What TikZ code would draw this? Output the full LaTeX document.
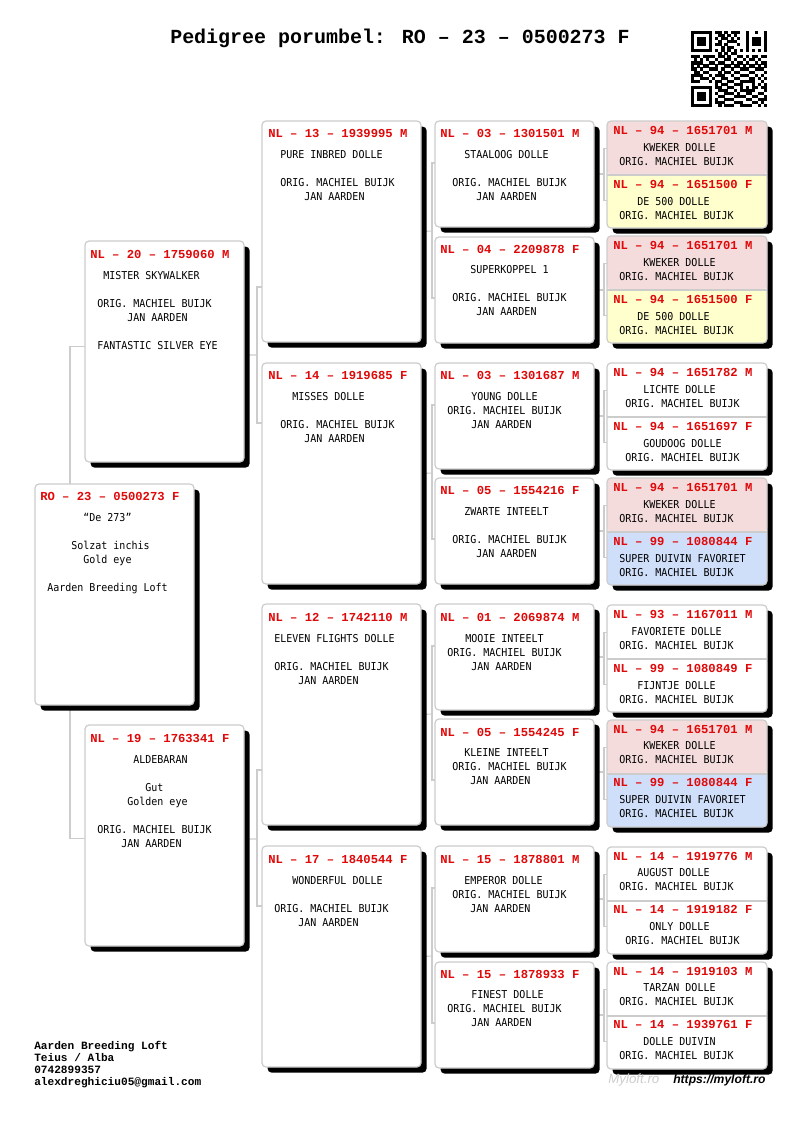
\documentclass[tikz,border=0pt]{standalone}
\usepackage{fontspec}
\usepackage{tikz}
\usetikzlibrary{shadows, backgrounds}
\setmainfont{Liberation Sans}
\newfontfamily\tagfont{Liberation Mono}
\newfontfamily\bodyfont[FakeStretch=0.92]{DejaVu Sans Mono}

\definecolor{linegray}{HTML}{CCCCCC}
\definecolor{tagred}{HTML}{E00808}
\definecolor{cellpink}{HTML}{F5DCDC}
\definecolor{cellyellow}{HTML}{FFFFCE}
\definecolor{cellblue}{HTML}{CFDFFA}

\begin{document}
\begin{tikzpicture}[
  x=0.75pt, y=-0.75pt,
  card/.style={
    draw=linegray, line width=0.9pt, fill=white, rounded corners=3pt,
    anchor=north west, inner sep=0pt, outer sep=0pt, minimum width=119.25pt,
    general shadow={fill=black, shadow xshift=4.2pt, shadow yshift=-4.2pt}
  },
  tallcard/.style={card, minimum height=165.75pt},
  shortcard/.style={card, minimum height=79.5pt},
  paircard/.style 2 args={
    card, minimum width=120pt, minimum height=80.25pt,
    path picture={
      \fill[#1] (path picture bounding box.north west) rectangle (path picture bounding box.east);
      \fill[#2] (path picture bounding box.west) rectangle (path picture bounding box.south east);
      \draw[linegray, line width=1.5pt] (path picture bounding box.west) -- (path picture bounding box.east);
    }
  },
  tag/.style={anchor=west, inner sep=0pt, text=tagred, font={\tagfont\bfseries\fontsize{9.15}{10.5}\selectfont}},
  body/.style={anchor=north west, inner sep=0pt, yshift=0.4pt, align=left, font={\bodyfont\fontsize{8.15}{10.5}\selectfont}},
  foot/.style={anchor=base west, inner sep=0pt, font={\tagfont\bfseries\fontsize{8.35}{9}\selectfont}},
  link/.style={draw=linegray, line width=0.8pt},
]
\useasboundingbox (0,0) rectangle (800,1131);

%% ── Title ─────────────────────────────────────────────────────────────────
\node[anchor=west, inner sep=0pt, font={\tagfont\bfseries\fontsize{14.98}{17}\selectfont}] (title) at (170,38)
  {Pedigree porumbel: RO – 23 – 0500273 F};

%% ── QR code ───────────────────────────────────────────────────────────────
\begin{scope}[shift={(691,31)}, x=2.28pt, y=-2.28pt]
  \foreach \r/\cols in {
    0/{0,...,6,8,9,11,13,14,15,18,...,24},
    1/{0,6,9,10,12,14,18,24},
    2/{0,2,3,4,6,8,10,11,13,15,18,20,21,22,24},
    3/{0,2,3,4,6,9,12,13,14,18,20,21,22,24},
    4/{0,2,3,4,6,8,9,11,15,18,20,21,22,24},
    5/{0,6,10,12,13,18,24},
    6/{0,...,6,8,10,12,14,16,18,...,24},
    7/{9,11,13,14},
    8/{0,1,2,4,5,6,7,9,10,12,15,16,18,20,21,23,24},
    9/{1,3,5,8,11,12,14,17,19,20,22},
    10/{0,1,2,3,6,7,9,10,13,15,16,18,21,23,24},
    11/{0,2,4,5,8,11,12,14,15,17,19,20,22,24},
    12/{0,1,3,6,7,8,10,13,16,17,18,21,22,23},
    13/{1,2,4,5,9,11,12,14,15,19,20,24},
    14/{0,1,2,3,6,8,9,10,13,16,17,18,21,23},
    15/{0,3,4,5,7,10,11,14,15,19,20,22,24},
    16/{0,1,2,6,8,9,12,13,16,17,18,19,20,23},
    17/{8,10,11,14,15,16,20,22,24},
    18/{0,...,6,8,9,12,13,16,18,20,21,23,24},
    19/{0,6,9,10,11,14,16,17,18,19,20,24},
    20/{0,2,3,4,6,8,11,12,13,15,18,19,22,23},
    21/{0,2,3,4,6,9,10,14,15,16,17,20,21,24},
    22/{0,2,3,4,6,8,11,12,13,18,19,22,23,24},
    23/{0,6,8,9,10,14,15,16,20,21,23},
    24/{0,...,6,9,11,12,13,16,17,18,19,22,24}%
  }{
    \foreach \c in \cols {\fill (\c,\r) rectangle ++(1.03,1.03);}
  }
\end{scope}

%% ── Subject ───────────────────────────────────────────────────────────────
\node[tallcard] (n23) at (35,484) {};
\node[tag] (n23t) at (40,496) {RO – 23 – 0500273 F};
\node[body] (n23b) at (47,514) {~~~~~~“De 273”\\~\\~~~~Solzat inchis\\~~~~~~Gold eye\\~\\Aarden Breeding Loft};

%% ── Parents ───────────────────────────────────────────────────────────────
\node[tallcard] (n20) at (85,241) {};
\node[tag] (n20t) at (90,254) {NL – 20 – 1759060 M};
\node[body] (n20b) at (97,272) {~MISTER SKYWALKER\\~\\ORIG. MACHIEL BUIJK\\~~~~~JAN AARDEN\\~\\FANTASTIC SILVER EYE};
\node[tallcard] (n19) at (85,725) {};
\node[tag] (n19t) at (90,738) {NL – 19 – 1763341 F};
\node[body] (n19b) at (97,756) {~~~~~~ALDEBARAN\\~\\~~~~~~~~Gut\\~~~~~Golden eye\\~\\ORIG. MACHIEL BUIJK\\~~~~JAN AARDEN};

%% ── Grandparents ──────────────────────────────────────────────────────────
\node[tallcard] (n13) at (262,121) {};
\node[tag] (n13t) at (268,133) {NL – 13 – 1939995 M};
\node[body] (n13b) at (280,151) {PURE INBRED DOLLE\\~\\ORIG. MACHIEL BUIJK\\~~~~JAN AARDEN};
\node[tallcard] (n14) at (262,363) {};
\node[tag] (n14t) at (268,375) {NL – 14 – 1919685 F};
\node[body] (n14b) at (280,393) {~~MISSES DOLLE\\~\\ORIG. MACHIEL BUIJK\\~~~~JAN AARDEN};
\node[tallcard] (n12) at (262,604) {};
\node[tag] (n12t) at (268,617) {NL – 12 – 1742110 M};
\node[body] (n12b) at (274,635) {ELEVEN FLIGHTS DOLLE\\~\\ORIG. MACHIEL BUIJK\\~~~~JAN AARDEN};
\node[tallcard] (n17) at (262,846) {};
\node[tag] (n17t) at (268,859) {NL – 17 – 1840544 F};
\node[body] (n17b) at (274,877) {~~~WONDERFUL DOLLE\\~\\ORIG. MACHIEL BUIJK\\~~~~JAN AARDEN};

%% ── Great-grandparents ────────────────────────────────────────────────────
\node[shortcard] (n03a) at (435,121) {};
\node[tag] (n03at) at (440,133) {NL – 03 – 1301501 M};
\node[body] (n03ab) at (452,151) {~~STAALOOG DOLLE\\~\\ORIG. MACHIEL BUIJK\\~~~~JAN AARDEN};
\node[shortcard] (n04) at (435,237) {};
\node[tag] (n04t) at (440,249) {NL – 04 – 2209878 F};
\node[body] (n04b) at (452,266) {~~~SUPERKOPPEL 1\\~\\ORIG. MACHIEL BUIJK\\~~~~JAN AARDEN};
\node[shortcard] (n03b) at (435,363) {};
\node[tag] (n03bt) at (440,375) {NL – 03 – 1301687 M};
\node[body] (n03bb) at (447,393) {~~~~YOUNG DOLLE\\ORIG. MACHIEL BUIJK\\~~~~JAN AARDEN};
\node[shortcard] (n05a) at (435,478) {};
\node[tag] (n05at) at (440,490) {NL – 05 – 1554216 F};
\node[body] (n05ab) at (452,508) {~~ZWARTE INTEELT\\~\\ORIG. MACHIEL BUIJK\\~~~~JAN AARDEN};
\node[shortcard] (n01) at (435,604) {};
\node[tag] (n01t) at (440,617) {NL – 01 – 2069874 M};
\node[body] (n01b) at (447,635) {~~~MOOIE INTEELT\\ORIG. MACHIEL BUIJK\\~~~~JAN AARDEN};
\node[shortcard] (n05b) at (435,719) {};
\node[tag] (n05bt) at (440,732) {NL – 05 – 1554245 F};
\node[body] (n05bb) at (452,749) {~~KLEINE INTEELT\\ORIG. MACHIEL BUIJK\\~~~JAN AARDEN};
\node[shortcard] (n15a) at (435,846) {};
\node[tag] (n15at) at (440,859) {NL – 15 – 1878801 M};
\node[body] (n15ab) at (452,877) {~~EMPEROR DOLLE\\ORIG. MACHIEL BUIJK\\~~~JAN AARDEN};
\node[shortcard] (n15b) at (435,962) {};
\node[tag] (n15bt) at (440,974) {NL – 15 – 1878933 F};
\node[body] (n15bb) at (447,991) {~~~~FINEST DOLLE\\ORIG. MACHIEL BUIJK\\~~~~JAN AARDEN};

%% ── Last generation, two to a card ────────────────────────────────────────
\node[paircard={cellpink}{cellyellow}] (p1) at (607,121) {};
\node[tag] (p1ta) at (613,130) {NL – 94 – 1651701 M};
\node[body] (p1ba) at (619,144) {~~~~KWEKER DOLLE\\ORIG. MACHIEL BUIJK};
\node[tag] (p1tb) at (613,184) {NL – 94 – 1651500 F};
\node[body] (p1bb) at (619,198) {~~~DE 500 DOLLE\\ORIG. MACHIEL BUIJK};
\node[paircard={cellpink}{cellyellow}] (p2) at (607,236) {};
\node[tag] (p2ta) at (613,245) {NL – 94 – 1651701 M};
\node[body] (p2ba) at (619,259) {~~~~KWEKER DOLLE\\ORIG. MACHIEL BUIJK};
\node[tag] (p2tb) at (613,299) {NL – 94 – 1651500 F};
\node[body] (p2bb) at (619,313) {~~~DE 500 DOLLE\\ORIG. MACHIEL BUIJK};
\node[paircard={white}{white}] (p3) at (607,363) {};
\node[tag] (p3ta) at (613,372) {NL – 94 – 1651782 M};
\node[body] (p3ba) at (625,386) {~~~LICHTE DOLLE\\ORIG. MACHIEL BUIJK};
\node[tag] (p3tb) at (613,426) {NL – 94 – 1651697 F};
\node[body] (p3bb) at (625,440) {~~~GOUDOOG DOLLE\\ORIG. MACHIEL BUIJK};
\node[paircard={cellpink}{cellblue}] (p4) at (607,478) {};
\node[tag] (p4ta) at (613,487) {NL – 94 – 1651701 M};
\node[body] (p4ba) at (619,501) {~~~~KWEKER DOLLE\\ORIG. MACHIEL BUIJK};
\node[tag] (p4tb) at (613,541) {NL – 99 – 1080844 F};
\node[body] (p4bb) at (619,555) {SUPER DUIVIN FAVORIET\\ORIG. MACHIEL BUIJK};
\node[paircard={white}{white}] (p5) at (607,605) {};
\node[tag] (p5ta) at (613,614) {NL – 93 – 1167011 M};
\node[body] (p5ba) at (619,628) {~~FAVORIETE DOLLE\\ORIG. MACHIEL BUIJK};
\node[tag] (p5tb) at (613,668) {NL – 99 – 1080849 F};
\node[body] (p5bb) at (619,682) {~~~FIJNTJE DOLLE\\ORIG. MACHIEL BUIJK};
\node[paircard={cellpink}{cellblue}] (p6) at (607,720) {};
\node[tag] (p6ta) at (613,729) {NL – 94 – 1651701 M};
\node[body] (p6ba) at (619,742) {~~~~KWEKER DOLLE\\ORIG. MACHIEL BUIJK};
\node[tag] (p6tb) at (613,782) {NL – 99 – 1080844 F};
\node[body] (p6bb) at (619,796) {SUPER DUIVIN FAVORIET\\ORIG. MACHIEL BUIJK};
\node[paircard={white}{white}] (p7) at (607,847) {};
\node[tag] (p7ta) at (613,856) {NL – 14 – 1919776 M};
\node[body] (p7ba) at (619,869) {~~~AUGUST DOLLE\\ORIG. MACHIEL BUIJK};
\node[tag] (p7tb) at (613,909) {NL – 14 – 1919182 F};
\node[body] (p7bb) at (625,923) {~~~~ONLY DOLLE\\ORIG. MACHIEL BUIJK};
\node[paircard={white}{white}] (p8) at (607,962) {};
\node[tag] (p8ta) at (613,971) {NL – 14 – 1919103 M};
\node[body] (p8ba) at (619,984) {~~~~TARZAN DOLLE\\ORIG. MACHIEL BUIJK};
\node[tag] (p8tb) at (613,1024) {NL – 14 – 1939761 F};
\node[body] (p8bb) at (619,1038) {~~~~DOLLE DUIVIN\\ORIG. MACHIEL BUIJK};

%% ── Connectors ────────────────────────────────────────────────────────────
\coordinate (bus23) at (70,594);
\coordinate (bus20) at (257,355);
\coordinate (bus19) at (257,839);
\coordinate (bus13) at (432,231);
\coordinate (bus14) at (432,473);
\coordinate (bus12) at (432,714);
\coordinate (bus17) at (432,956);
\coordinate (bus03a) at (604,174);
\coordinate (bus04) at (604,290);
\coordinate (bus03b) at (604,416);
\coordinate (bus05a) at (604,531);
\coordinate (bus01) at (604,657);
\coordinate (bus05b) at (604,772);
\coordinate (bus15a) at (604,899);
\coordinate (bus15b) at (604,1015);

\begin{scope}[on background layer]
  \draw[link] ([yshift=4pt]n20.west) -| (bus23) |- ([yshift=-2pt]n19.west);
  \draw[link] (n20.east) ++(0,-2.6pt) -- (bus20);
  \draw[link] ([yshift=-41.6pt]n13.west) -| (bus20) |- ([yshift=37.9pt]n14.west);
  \draw[link] (n19.east) ++(0,-2.6pt) -- (bus19);
  \draw[link] ([yshift=-41.6pt]n12.west) -| (bus19) |- ([yshift=37.9pt]n17.west);
  \draw[link] (n13.east) -- (bus13);
  \draw[link] ([yshift=8.25pt]n03a.west) -| (bus13) |- ([yshift=-6pt]n04.west);
  \draw[link] (n14.east) -- (bus14);
  \draw[link] ([yshift=8.25pt]n03b.west) -| (bus14) |- ([yshift=-6pt]n05a.west);
  \draw[link] (n12.east) -- (bus12);
  \draw[link] ([yshift=8.25pt]n01.west) -| (bus12) |- ([yshift=-6pt]n05b.west);
  \draw[link] (n17.east) -- (bus17);
  \draw[link] ([yshift=8.25pt]n15a.west) -| (bus17) |- ([yshift=-6pt]n15b.west);
  \draw[link] (n03a.east) -- (bus03a);
  \draw[link] ([yshift=19.5pt]p1.west) -| (bus03a) |- ([yshift=-19.5pt]p1.west);
  \draw[link] (n04.east) -- (bus04);
  \draw[link] ([yshift=19.5pt]p2.west) -| (bus04) |- ([yshift=-19.5pt]p2.west);
  \draw[link] (n03b.east) -- (bus03b);
  \draw[link] ([yshift=19.5pt]p3.west) -| (bus03b) |- ([yshift=-19.5pt]p3.west);
  \draw[link] (n05a.east) -- (bus05a);
  \draw[link] ([yshift=19.5pt]p4.west) -| (bus05a) |- ([yshift=-19.5pt]p4.west);
  \draw[link] (n01.east) -- (bus01);
  \draw[link] ([yshift=19.5pt]p5.west) -| (bus01) |- ([yshift=-19.5pt]p5.west);
  \draw[link] (n05b.east) -- (bus05b);
  \draw[link] ([yshift=19.5pt]p6.west) -| (bus05b) |- ([yshift=-19.5pt]p6.west);
  \draw[link] (n15a.east) -- (bus15a);
  \draw[link] ([yshift=19.5pt]p7.west) -| (bus15a) |- ([yshift=-19.5pt]p7.west);
  \draw[link] (n15b.east) -- (bus15b);
  \draw[link] ([yshift=19.5pt]p8.west) -| (bus15b) |- ([yshift=-19.5pt]p8.west);
\end{scope}

%% ── Footer ────────────────────────────────────────────────────────────────
\node[foot] (foot1) at (34,1049) {Aarden Breeding Loft};
\node[foot] (foot2) at (34,1061) {Teius / Alba};
\node[foot] (foot3) at (34,1073) {0742899357};
\node[foot] (foot4) at (34,1085) {alexdreghiciu05@gmail.com};
\node[anchor=west, inner sep=0pt, text=gray!40, font={\itshape\fontsize{10}{11}\selectfont}] (logo) at (608,1080) {Myloft.ro};
\node[anchor=west, inner sep=0pt, font={\bfseries\itshape\fontsize{9.1}{11}\selectfont}] (url) at (673,1080) {https://myloft.ro};

\end{tikzpicture}
\end{document}
